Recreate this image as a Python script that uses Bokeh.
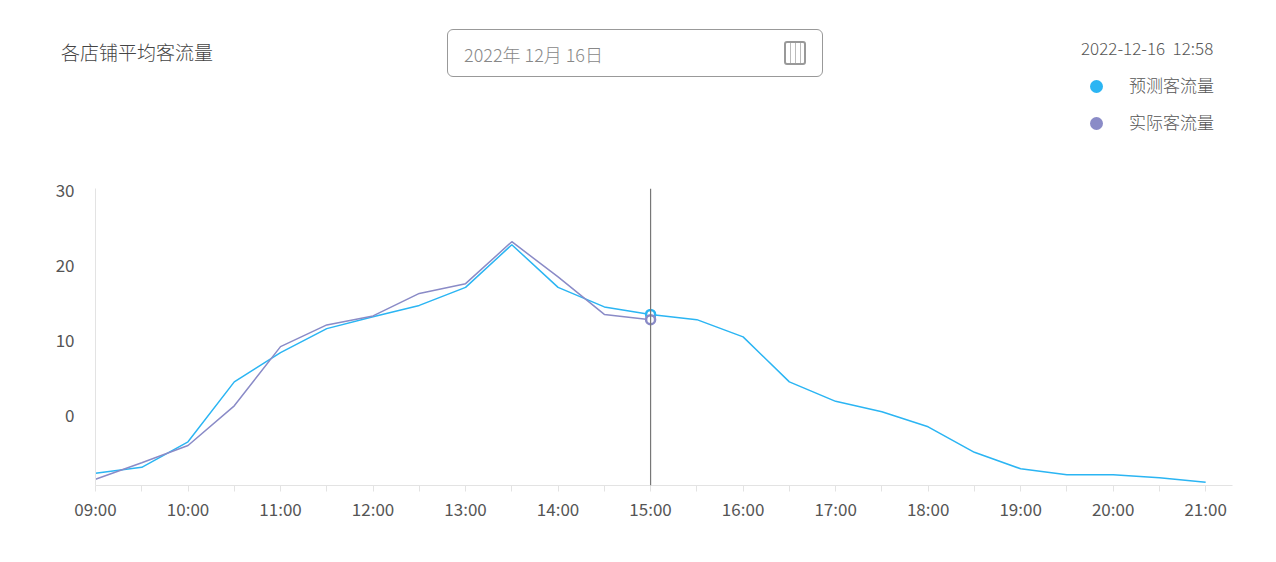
from bokeh.plotting import figure
from bokeh.models import Div, Span, FixedTicker
from bokeh.layouts import column
from bokeh.embed import file_html
from bokeh.resources import INLINE

hours = [9 + 0.5 * i for i in range(25)]
forecast = [-7.7, -6.9, -3.5, 4.5, 8.4, 11.6, 13.2, 14.7, 17.1, 22.8, 17.1, 14.5, 13.5,
            12.8, 10.5, 4.5, 1.9, 0.5, -1.5, -4.9, -7.1, -7.9, -7.9, -8.3, -8.9]
actual_hours = hours[:13]
actual = [-8.5, -6.3, -4.0, 1.3, 9.2, 12.1, 13.3, 16.3, 17.6, 23.2, 18.5, 13.5, 12.8]
y_ticks = [0, 10, 20, 30]
x_labels = {h: (f"{int(h):02d}:00" if h == int(h) else "") for h in hours}
now_hour = 15
BLUE, PURPLE = "#2bb5f3", "#8a8bc7"
FONT = "Noto Sans CJK SC"

header = Div(width=1268, height=172, text=f"""
<div style="position:relative;width:1268px;height:172px;font-family:'{FONT}';font-weight:300;color:#555">
 <div style="position:absolute;left:56px;top:33px;font-size:19px;color:#444">各店铺平均客流量</div>
 <div style="position:absolute;left:442px;top:24px;width:376px;height:48px;border:1px solid #999;border-radius:6px;">
   <span style="position:absolute;left:16px;top:12px;font-size:18px;color:#888">2022年 12月 16日</span>
   <div style="position:absolute;right:16px;top:11px;width:22px;height:24px;border:2px solid #999;border-radius:3px;box-sizing:border-box;
     background:repeating-linear-gradient(90deg,transparent 0 4px,#bbb 4px 5px),#fff"></div>
 </div>
 <div style="position:absolute;left:1076px;top:31px;font-size:17px;color:#555">2022-12-16&nbsp; 12:58</div>
 <div style="position:absolute;left:1085px;top:75px;width:13px;height:13px;border-radius:50%;background:{BLUE}"></div>
 <div style="position:absolute;left:1124px;top:68px;font-size:17px">预测客流量</div>
 <div style="position:absolute;left:1085px;top:112px;width:13px;height:13px;border-radius:50%;background:{PURPLE}"></div>
 <div style="position:absolute;left:1124px;top:105px;font-size:17px">实际客流量</div>
</div>""")

p = figure(width=1268, height=366, output_backend="svg", toolbar_location=None,
           x_range=(9, 21.29), y_range=(-9.33, 30.3),
           min_border_left=95, min_border_right=36, min_border_top=6, min_border_bottom=63)
p.outline_line_color = None
p.grid.visible = False
p.line(hours, forecast, color=BLUE, line_width=1.5)
p.line(actual_hours, actual, color=PURPLE, line_width=1.5)
p.add_layout(Span(location=now_hour, dimension="height", line_color="#777", line_width=1.2))
i = hours.index(now_hour)
p.scatter([now_hour], [forecast[i]], size=9, fill_color="white", line_color=BLUE, line_width=2.5)
p.scatter([now_hour], [actual[i]], size=9, fill_color="white", line_color=PURPLE, line_width=2.5)

p.xaxis.ticker = FixedTicker(ticks=hours)
p.xaxis.major_label_overrides = x_labels
p.xaxis.axis_line_color = "#e3e3e3"
p.xaxis.major_tick_line_color = "#e3e3e3"
p.xaxis.major_tick_in = 0
p.xaxis.major_tick_out = 6
p.xaxis.minor_tick_line_color = None
p.xaxis.major_label_standoff = 4
p.yaxis.ticker = FixedTicker(ticks=y_ticks)
p.yaxis.axis_line_color = "#e3e3e3"
p.yaxis.major_tick_line_color = None
p.yaxis.minor_tick_line_color = None
p.yaxis.major_label_standoff = 15
for ax in (p.xaxis, p.yaxis):
    ax.major_label_text_font = FONT
    ax.major_label_text_font_size = "17px"
    ax.major_label_text_color = "#555"

layout = column(header, p, spacing=0)
open("out.html", "w").write(file_html(layout, INLINE))
